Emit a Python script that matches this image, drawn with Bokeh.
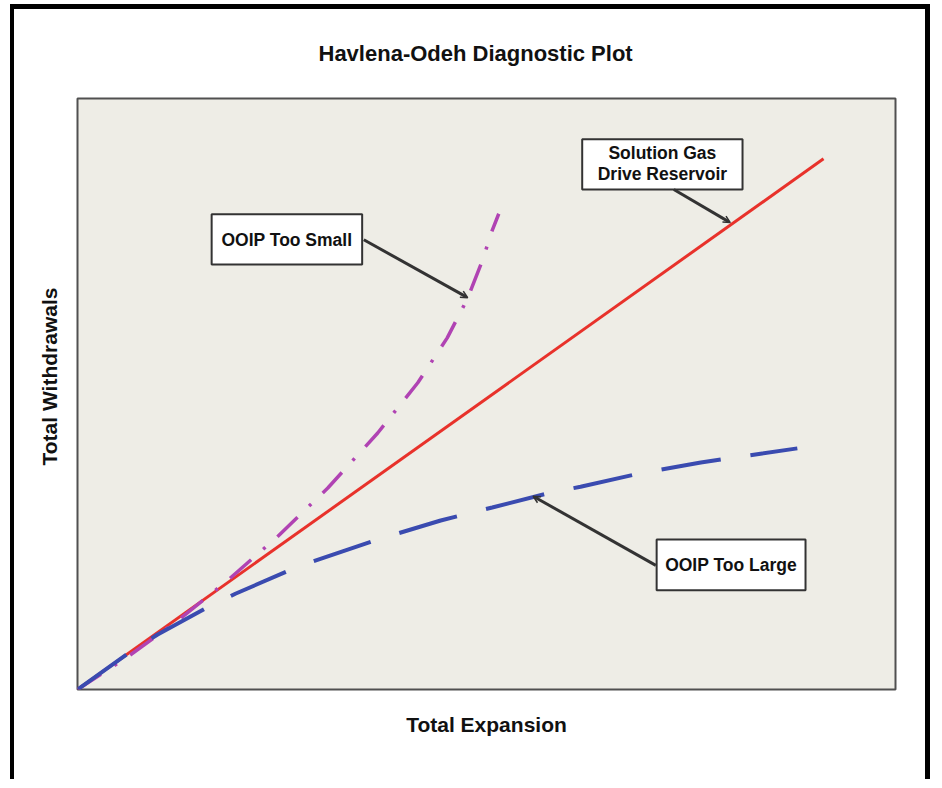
from bokeh.plotting import figure
from bokeh.models import Range1d, FixedTicker, Arrow, OpenHead, Title
from bokeh.embed import file_html
from bokeh.resources import INLINE
from bokeh.core.properties import value

# ---- data (arbitrary units: Total Expansion vs Total Withdrawals) ----
solution_gas_x = [0.0, 9.12]
solution_gas_y = [0.0, 8.98]

ooip_small_x = [0.0, 0.61, 1.22, 1.83, 2.44, 3.06, 3.67, 4.16, 4.52, 4.77, 4.95, 5.07, 5.15]
ooip_small_y = [0.0, 0.55, 1.16, 1.84, 2.58, 3.41, 4.34, 5.19, 5.95, 6.62, 7.26, 7.77, 8.05]

ooip_large_x = [0.0, 0.62, 0.98, 1.56, 1.93, 2.73, 3.70, 4.44, 5.07, 5.78, 6.15, 6.85, 7.62, 8.35, 8.80]
ooip_large_y = [0.0, 0.61, 0.93, 1.37, 1.62, 2.10, 2.55, 2.86, 3.08, 3.33, 3.43, 3.65, 3.84, 3.99, 4.08]

callout_texts = ["OOIP Too Small", "Solution Gas", "Drive Reservoir", "OOIP Too Large"]

FONT = "Liberation Sans"

p = figure(width=920, height=775, output_backend="svg", toolbar_location=None,
           x_range=Range1d(0, 10), y_range=Range1d(0, 10),
           min_border_left=63, min_border_right=39, min_border_top=89, min_border_bottom=95)
p.margin = (4, 0, 0, 10)
p.styles = {"border-top": "5px solid black", "border-left": "4px solid black",
            "border-right": "5px solid black"}

p.background_fill_color = "#EEEDE6"
p.border_fill_color = "white"
p.outline_line_color = "#505050"
p.outline_line_width = 2
p.grid.visible = False

p.title.text = "Havlena-Odeh Diagnostic Plot"
p.title.text_font = FONT
p.title.text_font_size = "22px"
p.title.text_font_style = "bold"
p.title.text_color = "#111111"
p.title.align = "left"
p.title.offset = 241
p.title.vertical_align = "top"
p.title.standoff = 61

for ax in (p.xaxis[0], p.yaxis[0]):
    ax.ticker = FixedTicker(ticks=[])
    ax.axis_line_color = None
    ax.major_tick_line_color = None
    ax.minor_tick_line_color = None
    ax.major_tick_out = 0
    ax.major_tick_in = 0
    ax.major_label_standoff = 0
    ax.axis_label_text_font = FONT
    ax.axis_label_text_font_size = "21px"
    ax.axis_label_text_font_style = "bold"
    ax.axis_label_text_color = "#111111"

p.xaxis.axis_label = "Total Expansion"
p.xaxis.axis_label_standoff = 23

# y-axis title sits a little below the frame centre in the original
ylabel = Title(text="Total Withdrawals", align="left", offset=224,
               vertical_align="bottom", standoff=34,
               text_font=FONT, text_font_size="21px", text_font_style="bold",
               text_color="#111111")
p.add_layout(ylabel, "left")

# curves
p.line(solution_gas_x, solution_gas_y, line_color="#E8322B", line_width=3)
p.line(ooip_small_x, ooip_small_y, line_color="#B043B3", line_width=3.5,
       line_dash="28 16 3 16")
p.line(ooip_large_x, ooip_large_y, line_color="#3A4BB0", line_width=4,
       line_dash="60 30")

# callout boxes
box_left = [1.64, 6.17, 7.08]
box_right = [3.48, 8.13, 8.90]
box_top = [8.04, 9.31, 2.54]
box_bottom = [7.19, 8.46, 1.68]
p.quad(left=box_left, right=box_right, top=box_top, bottom=box_bottom,
       fill_color="white", line_color="#333333", line_width=2)

text_x = [2.56, 7.15, 7.15, 7.99]
text_y = [7.61, 9.07, 8.73, 2.11]
p.text(x=text_x, y=text_y, text=callout_texts, text_align="center",
       text_baseline="middle", text_font=value(FONT), text_font_size="17.5px",
       text_font_style="bold", text_color="#111111")

arrows = [((3.50, 7.61), (4.77, 6.63)),
          ((7.29, 8.46), (7.98, 7.90)),
          ((7.07, 2.10), (5.57, 3.27))]
for (xs, ys), (xe, ye) in arrows:
    p.add_layout(Arrow(x_start=xs, y_start=ys, x_end=xe, y_end=ye,
                       line_color="#333333", line_width=3,
                       end=OpenHead(size=7, line_color="#333333", line_width=1.5)))

open("out.html", "w").write(file_html(p, INLINE))
